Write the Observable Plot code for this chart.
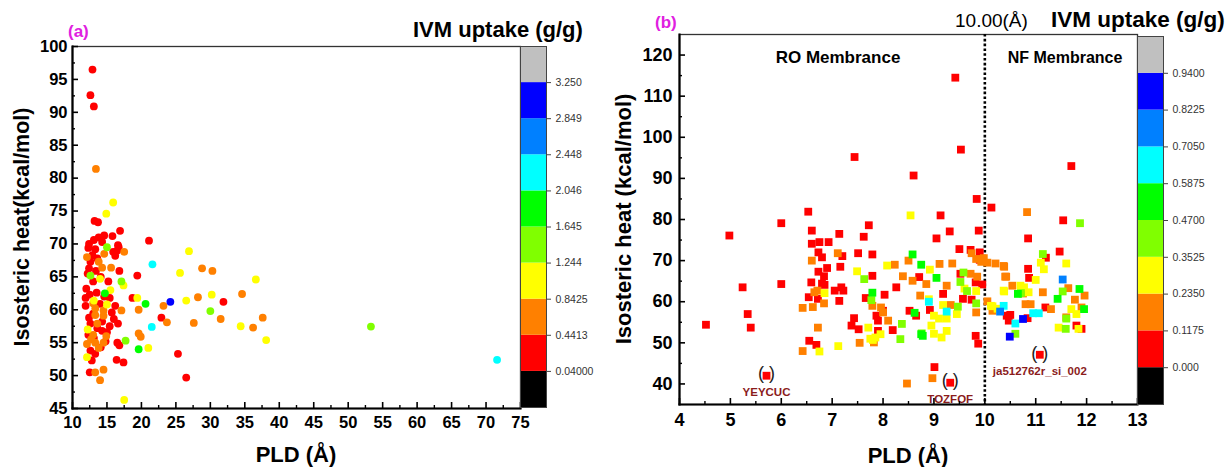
<!DOCTYPE html>
<html><head><meta charset="utf-8">
<script src="https://cdn.jsdelivr.net/npm/d3@7"></script>
<script src="https://cdn.jsdelivr.net/npm/@observablehq/plot@0.6"></script>
<style>
body{margin:0;background:#fff;}
#root{position:relative;width:1226px;height:467px;overflow:hidden;font-family:"Liberation Sans",Arial,sans-serif;}
#root > svg{position:absolute;top:0;}
</style></head><body><div id="root"></div>
<script>
// ---------- shared colour bands ----------
const bandColors = ["#000000","#ff0000","#ff8000","#ffff00","#80ff00","#00ff00","#00ffff","#0080ff","#0000ff","#c0c0c0"];

// ---------- panel (a) ----------
const aLevels = [0.04, 0.4413, 0.8425, 1.244, 1.645, 2.046, 2.448, 2.849, 3.250];
const aLevelLabels = ["0.04000","0.4413","0.8425","1.244","1.645","2.046","2.448","2.849","3.250"];
const aXTicks = [10,15,20,25,30,35,40,45,50,55,60,65,70,75];
const aYTicks = [45,50,55,60,65,70,75,80,85,90,95,100];
const aUptake = [0.24, 0.64, 1.04, 1.44, 1.85, 2.25, 3.05]; // red, orange, yellow, lime, green, cyan, blue
const aRed = [
[12.9,96.5],[12.6,92.6],[13.1,90.9],[13.2,73.5],[13.7,73.3],[16.9,72.0],[15.8,71.2],[21.1,70.5],[12.4,70.0],[13.8,71.0],
[14.3,70.3],[16.6,69.8],[16.5,69.0],[15.9,68.8],[12.6,67.3],[12.4,66.3],[16.8,65.9],[19.4,65.2],[13.0,64.3],[12.0,63.2],
[15.4,61.8],[18.7,61.8],[11.9,61.8],[14.0,60.9],[11.9,60.6],[15.7,59.6],[22.9,58.8],[12.4,58.8],[12.6,57.9],[15.4,57.5],
[16.6,57.9],[14.3,56.8],[14.8,55.2],[16.5,55.0],[16.8,54.6],[12.6,53.8],[13.3,53.3],[12.8,52.3],[16.4,52.4],[17.4,52.0],
[25.3,53.3],[26.5,49.7],[12.5,50.5],[31.9,61.2],[12.3,69.4],[13.3,69.2],[12.9,68.3],[13.6,67.8],[12.2,65.5],[13.4,65.9],
[14.1,65.0],[13.5,62.6],[12.5,62.3],[14.6,62.0],[13.0,59.4],[14.3,58.2],[13.6,57.2],[13.1,55.7],[15.0,56.6],[16.0,58.6],
[16.2,60.6],[16.7,69.5],[16.2,68.2],[14.1,54.3],[12.3,56.2],[15.2,64.3],[13.1,70.6],[14.6,71.3]
];
const aOrange = [
[13.4,81.4],[17.5,68.8],[12.1,68.0],[13.8,67.3],[28.8,66.3],[30.3,65.9],[14.3,66.4],[15.6,66.4],[28.2,61.9],[13.3,60.2],
[14.5,59.9],[17.1,59.9],[19.6,60.0],[23.2,60.6],[23.7,58.1],[27.6,58.0],[13.3,59.2],[14.5,59.1],[13.6,57.9],[13.0,56.2],
[19.6,56.4],[19.9,55.9],[12.1,54.8],[13.3,55.0],[14.5,55.0],[13.8,54.2],[13.3,50.5],[14.5,50.9],[14.0,49.3],[31.5,58.6],
[34.6,62.4],[36.2,57.3],[37.6,58.8],[14.6,68.5],[13.0,61.0],[12.7,55.5],[14.9,56.0]
];
const aYellow = [
[15.9,76.3],[14.9,74.6],[26.9,68.9],[25.6,65.6],[14.0,64.7],[17.4,63.7],[15.5,63.0],[19.4,61.8],[26.5,61.4],[30.2,62.3],
[13.1,61.4],[12.2,57.0],[21.0,54.2],[12.1,52.8],[17.5,46.3],[34.4,57.5],[36.6,64.6],[38.1,55.4],[15.0,60.8]
];
const aLime = [[15.0,69.5],[17.1,64.3],[30.0,59.8],[17.7,55.3],[53.3,57.45],[12.6,65.2]];
const aGreen = [[14.7,62.5],[20.6,60.9],[19.6,54.0]];
const aCyan = [[21.6,66.9],[21.5,57.4],[71.6,52.4]];
const aBlue = [[24.2,61.2]];

// ---------- panel (b) ----------
const bLevels = [0, 0.1175, 0.235, 0.3525, 0.47, 0.5875, 0.705, 0.8225, 0.94];
const bLevelLabels = ["0.000","0.1175","0.2350","0.3525","0.4700","0.5875","0.7050","0.8225","0.9400"];
const bXTicks = [4,5,6,7,8,9,10,11,12,13];
const bYTicks = [40,50,60,70,80,90,100,110,120];
const bThreshold = [10];
const bUptake = [0.06, 0.18, 0.29, 0.41, 0.53, 0.65, 0.76, 0.88]; // red, orange, yellow, lime, green, cyan, azure, blue
const bRed = [
[7.44,95.2],[8.60,90.7],[9.42,114.5],[9.53,97.0],[11.70,93.0],[9.84,85.0],[10.13,82.9],[9.13,81.0],[6.53,81.9],[6.00,79.1],
[7.72,78.6],[4.98,76.1],[6.60,77.3],[7.14,76.5],[7.62,75.8],[9.31,77.1],[9.88,77.3],[9.05,75.4],[10.85,75.4],[11.54,79.8],
[6.60,74.1],[6.75,74.5],[6.93,74.5],[6.73,72.0],[7.20,71.1],[7.51,71.8],[7.79,71.5],[6.80,70.8],[9.50,72.8],[9.72,72.6],
[9.90,72.0],[11.47,72.2],[11.20,70.7],[6.90,68.2],[7.16,68.5],[6.73,67.3],[6.84,66.2],[7.79,66.3],[8.71,66.0],[9.52,66.8],
[10.85,68.0],[10.87,65.8],[6.59,64.7],[6.80,64.4],[6.85,64.1],[5.24,63.5],[6.00,64.3],[8.26,63.5],[9.82,64.7],[7.05,62.7],
[7.18,63.5],[7.22,62.7],[6.54,61.1],[6.72,60.7],[7.14,60.2],[7.66,60.9],[8.03,61.7],[9.18,61.9],[9.57,60.7],[5.34,57.0],
[4.52,54.4],[5.40,53.7],[7.43,56.0],[7.38,54.2],[7.52,53.3],[8.00,57.8],[8.52,57.8],[8.65,56.6],[7.87,56.6],[7.90,55.4],
[8.19,53.1],[7.90,52.9],[8.92,58.0],[9.82,51.7],[9.87,49.8],[10.47,55.4],[10.43,56.6],[10.84,56.0],[11.19,58.6],[11.90,53.4],
[6.55,50.5],[6.69,49.5],[9.01,44.1],[10.50,56.8],[9.74,60.5],[5.71,42.0],[9.32,40.3],[11.08,47.1],[9.90,70.2],[9.95,64.2],[11.80,54.2]
];
const bOrange = [
[7.11,71.8],[6.60,70.0],[6.71,62.7],[6.84,59.6],[6.42,58.5],[6.62,58.7],[6.72,53.7],[6.42,48.0],[7.54,50.0],[8.50,70.0],
[8.23,69.0],[8.39,66.2],[8.58,65.1],[8.73,61.5],[7.79,59.0],[7.96,58.6],[8.00,57.4],[8.10,55.4],[7.82,50.1],[8.47,40.1],
[8.97,41.4],[10.83,81.8],[9.74,71.8],[9.83,70.4],[9.93,69.7],[10.05,69.5],[10.21,69.3],[9.11,69.2],[9.36,69.3],[10.37,68.7],
[9.72,66.8],[9.85,66.1],[10.40,66.1],[9.25,63.9],[10.54,63.9],[10.75,62.0],[10.05,60.1],[9.33,59.2],[9.83,57.4],[10.15,57.8],
[10.80,59.4],[10.90,59.4],[11.14,62.3],[11.64,63.3],[11.96,61.5],[11.77,60.5],[11.30,58.2],[11.90,58.6],[11.60,56.2],[10.38,68.5],
[10.42,66.1],[6.65,62.3],[9.98,70.6],[8.85,64.3]
];
const bYellow = [
[8.54,81.0],[7.49,67.4],[6.85,62.1],[7.71,53.7],[6.75,47.9],[7.12,49.2],[7.75,51.0],[8.08,68.8],[8.92,67.8],[9.83,62.6],
[10.37,62.7],[10.70,63.9],[9.18,59.2],[9.00,56.6],[9.25,55.9],[9.10,55.9],[10.15,58.9],[10.25,58.3],[7.85,51.3],[7.95,52.1],
[7.80,50.7],[9.00,52.2],[9.25,52.9],[9.15,51.3],[11.60,69.3],[11.10,69.5],[11.16,67.9],[11.00,65.3],[10.77,63.5],[10.38,62.5],
[10.86,62.3],[11.70,58.2],[11.45,53.7],[11.84,53.4],[11.80,57.0],[10.12,59.0],[8.90,60.6],[9.60,63.2],[8.95,54.2],[9.45,57.0]
];
const bLime = [
[7.63,65.5],[7.77,60.4],[8.34,50.9],[8.37,54.6],[8.76,52.3],[9.58,67.1],[9.52,64.8],[9.65,62.6],[9.83,59.6],[9.47,58.8],
[11.14,71.6],[11.87,79.1],[10.71,62.1],[11.53,62.5],[11.60,55.9],[11.59,53.4],[10.60,52.2]
];
const bGreen = [[8.58,71.5],[8.75,69.0],[7.79,62.2],[8.62,57.3],[8.78,51.7],[9.05,65.8],[8.75,52.1],[11.86,63.1],[11.43,60.7],[11.95,58.2],[10.65,61.9]];
const bCyan = [[8.90,60.0],[9.25,57.6],[10.60,54.7],[11.06,57.2],[10.95,57.2],[10.37,59.0]];
const bAzure = [[11.53,65.4],[10.30,57.6]];
const bBlue = [[10.75,55.8],[10.49,51.5]];
const bTagName = ["YEYCUC","TOZFOF","ja512762r_si_002"];
const bTagPLD = [5.71, 9.32, 11.08];
const bTagHeat = [42.0, 40.3, 47.1];

// ---------- build tables ----------
function build(groups, uptakes) {
  return groups.flatMap((pts, i) => pts.map(([x, y]) => ({pld: x, heat: y, uptake: uptakes[i]})));
}
const aData = build([aRed, aOrange, aYellow, aLime, aGreen, aCyan, aBlue], aUptake);
const bData = build([bRed, bOrange, bYellow, bLime, bGreen, bCyan, bAzure, bBlue], bUptake);
const bTags = bTagName.map((n, i) => ({name: n, pld: bTagPLD[i], heat: bTagHeat[i]}));

const FONT = "Liberation Sans, Arial, sans-serif";
const minor = (ticks) => ticks.slice(0, -1).map((t, i) => (t + ticks[i + 1]) / 2);

function axes(xTicks, yTicks, fs, padX, padY) {
  const none = () => "";
  return [
    Plot.axisX({ticks: xTicks, tickSize: 0, tickPadding: padX, fontSize: fs, fontWeight: "bold", label: null, fill: "#000"}),
    Plot.axisX({ticks: xTicks, tickSize: 6, dy: -6, tickFormat: none, label: null, strokeWidth: 1.6}),
    Plot.axisX({ticks: minor(xTicks), tickSize: 3, dy: -3, tickFormat: none, label: null, strokeWidth: 1.4}),
    Plot.axisY({ticks: yTicks, tickSize: 0, tickPadding: padY, fontSize: fs, fontWeight: "bold", label: null, fill: "#000"}),
    Plot.axisY({ticks: yTicks, tickSize: 6, dx: 6, tickFormat: none, label: null, strokeWidth: 1.6}),
    Plot.axisY({ticks: minor(yTicks), tickSize: 3, dx: 3, tickFormat: none, label: null, strokeWidth: 1.4}),
    Plot.frame({anchor: "left", stroke: "#000", strokeWidth: 2.2}),
    Plot.frame({anchor: "bottom", stroke: "#000", strokeWidth: 2.2})
  ];
}

function colorbar(levels, labels, opts) {
  const n = levels.length - 1;
  const step = (levels[n] - levels[0]) / n;
  const bounds = [levels[0] - step, ...levels, levels[n] + step];
  const bands = bandColors.map((c, i) => ({lo: bounds[i], hi: bounds[i + 1], color: c}));
  return Plot.plot({
    width: opts.width, height: 467,
    marginLeft: 0, marginRight: opts.width - 26, marginTop: opts.top, marginBottom: 467 - opts.bottom,
    style: {fontFamily: FONT, background: "transparent"},
    y: {domain: [bounds[0], bounds[bounds.length - 1]]},
    color: {type: "identity"},
    marks: [
      Plot.barY(bands, {y1: "lo", y2: "hi", fill: "color"}),
      Plot.frame({stroke: "#444", strokeWidth: 1}),
      Plot.axisY({anchor: "right", ticks: levels, tickFormat: d => labels[levels.indexOf(d)],
        tickSize: 4, tickPadding: 5, fontSize: opts.fs, fill: "#333", stroke: "#444", label: null})
    ]
  });
}

// ---------- panel (a) plot ----------
const plotA = Plot.plot({
  width: 541, height: 467, marginLeft: 72, marginRight: 21, marginTop: 46, marginBottom: 59,
  style: {fontFamily: FONT, background: "transparent", color: "#000"},
  x: {domain: [10, 75]}, y: {domain: [45, 100]},
  color: {type: "threshold", domain: aLevels, range: bandColors},
  marks: [
    Plot.frame({stroke: "#333", strokeWidth: 1.3}),
    Plot.dot(aData, {x: "pld", y: "heat", fill: "uptake", r: 3.9}),
    ...axes(aXTicks, aYTicks, 16.5, 8, 5)
  ]
});
plotA.style.left = "0px";

const cbA = colorbar(aLevels, aLevelLabels, {width: 80, top: 46, bottom: 407, fs: 10.5});
cbA.style.left = "520px";

// ---------- panel (b) plot ----------
const plotB = Plot.plot({
  width: 558, height: 467, marginLeft: 79, marginRight: 21, marginTop: 34, marginBottom: 63,
  style: {fontFamily: FONT, background: "transparent", color: "#000"},
  x: {domain: [4, 13]}, y: {domain: [35, 125]},
  color: {type: "threshold", domain: bLevels, range: bandColors},
  marks: [
    Plot.frame({stroke: "#333", strokeWidth: 1.3}),
    Plot.ruleX(bThreshold, {stroke: "#000", strokeWidth: 2.6, strokeDasharray: "2.6,2.2"}),
    Plot.dot(bData, {x: "pld", y: "heat", fill: "uptake", symbol: "square", r: 4.4}),
    Plot.text(bTags, {x: "pld", y: "heat", text: () => "( )", fontSize: 18, fill: "#222", dy: -2}),
    Plot.text(bTags, {x: "pld", y: "heat", text: "name", fontSize: 11.5, fontWeight: "bold", fill: "#8b1c1c", dy: 17}),
    ...axes(bXTicks, bYTicks, 18, 9, 7)
  ]
});
plotB.style.left = "600px";

const cbB = colorbar(bLevels, bLevelLabels, {width: 89, top: 36, bottom: 404, fs: 10.5});
cbB.style.left = "1137px";

const root = document.getElementById("root");
[plotA, plotB, cbA, cbB].forEach(s => root.appendChild(s));

// ---------- titles and annotations ----------
const ov = d3.select(root).append("svg")
  .attr("width", 1226).attr("height", 467)
  .style("position", "absolute").style("left", "0px").style("top", "0px")
  .style("pointer-events", "none")
  .attr("font-family", FONT);

function txt(s, x, y, o = {}) {
  const t = ov.append("text").attr("x", 0).attr("y", 0).text(s)
    .attr("font-size", o.size || 20)
    .attr("font-weight", o.weight || "bold")
    .attr("fill", o.fill || "#000")
    .attr("text-anchor", o.anchor || "start")
    .attr("transform", `translate(${x},${y})` + (o.rotate ? ` rotate(${o.rotate})` : ""));
  return t;
}
txt("(a)", 68, 37, {size: 17, fill: "#e020e0"});
txt("IVM uptake (g/g)", 413, 37, {size: 22});
txt("Isosteric heat(kcal/mol)", 29, 227, {size: 21.5, anchor: "middle", rotate: -90});
txt("PLD (Å)", 296, 462, {size: 22, anchor: "middle"});

txt("(b)", 655, 28, {size: 17, fill: "#e020e0"});
txt("10.00(Å)", 955, 27, {size: 19, weight: "normal"});
txt("IVM uptake (g/g)", 1051, 27, {size: 22.5});
txt("RO Membrance", 838, 63, {size: 17, anchor: "middle"});
txt("NF Membrance", 1065, 63, {size: 16, anchor: "middle"});
txt("Isosteric heat (kcal/mol)", 631, 219, {size: 22, anchor: "middle", rotate: -90});
txt("PLD (Å)", 908, 463, {size: 22, anchor: "middle"});
</script></body></html>
